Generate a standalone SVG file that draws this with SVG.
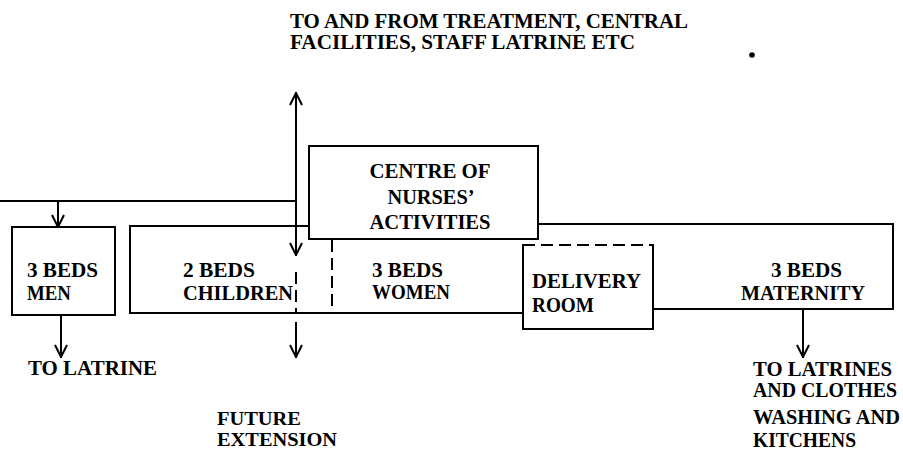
<svg xmlns="http://www.w3.org/2000/svg" width="903" height="450" viewBox="0 0 903 450">
<style>
text{font-family:"Liberation Serif","Times New Roman",serif;font-weight:bold;font-size:20px;fill:#000}
.sm{font-size:18.5px}
.ln{fill:none;stroke:#000;stroke-width:2;stroke-linecap:square}
.dash{fill:none;stroke:#000;stroke-width:2;stroke-dasharray:12 6}
</style>
<defs>
<marker id="ah" viewBox="0 0 14 14" refX="13" refY="7" markerWidth="14" markerHeight="14" markerUnits="userSpaceOnUse" orient="auto-start-reverse">
<path d="M1,1 L13,7 L1,13" fill="none" stroke="#000" stroke-width="2"/>
</marker>
</defs>
<rect width="903" height="450" fill="#fff"/>
<g id="title">
<text x="290" y="28" textLength="398" lengthAdjust="spacingAndGlyphs">TO AND FROM TREATMENT, CENTRAL</text>
<text x="290" y="49" textLength="345" lengthAdjust="spacingAndGlyphs">FACILITIES, STAFF LATRINE ETC</text>
<circle cx="752" cy="55" r="2.8" fill="#000"/>
</g>
<g id="ward">
<path class="ln" d="M309,226 H130 V313 H523"/>
<path class="ln" d="M653,309 H893 V224 H538"/>
<line class="dash" x1="332" y1="240" x2="332" y2="312" stroke-dasharray="11 5"/>
</g>
<g id="men">
<rect class="ln" x="12" y="227" width="103" height="88"/>
<text x="27" y="277" textLength="71" lengthAdjust="spacingAndGlyphs">3 BEDS</text>
<text x="27" y="300" textLength="44" lengthAdjust="spacingAndGlyphs">MEN</text>
</g>
<g id="children">
<text x="183" y="277" textLength="72" lengthAdjust="spacingAndGlyphs">2 BEDS</text>
<text x="183" y="300" textLength="110" lengthAdjust="spacingAndGlyphs">CHILDREN</text>
</g>
<g id="nurses">
<rect class="ln" x="309" y="146" width="229" height="93" fill="#fff"/>
<text x="430" y="178" text-anchor="middle" textLength="121" lengthAdjust="spacingAndGlyphs">CENTRE OF</text>
<text x="431" y="204" text-anchor="middle" textLength="87" lengthAdjust="spacingAndGlyphs">NURSES’</text>
<text x="430" y="229" text-anchor="middle" textLength="121" lengthAdjust="spacingAndGlyphs">ACTIVITIES</text>
</g>
<g id="women">
<text x="372" y="277" textLength="71" lengthAdjust="spacingAndGlyphs">3 BEDS</text>
<text x="372" y="299" textLength="78" lengthAdjust="spacingAndGlyphs">WOMEN</text>
</g>
<g id="delivery">
<path class="ln" d="M523,245 V329 H653 V245"/>
<line class="dash" x1="523" y1="245" x2="653" y2="245" stroke-dasharray="14 4"/>
<text x="532" y="288" textLength="109" lengthAdjust="spacingAndGlyphs">DELIVERY</text>
<text x="532" y="312" textLength="62" lengthAdjust="spacingAndGlyphs">ROOM</text>
</g>
<g id="maternity">
<text x="771" y="277" textLength="71" lengthAdjust="spacingAndGlyphs">3 BEDS</text>
<text x="741" y="300" textLength="124" lengthAdjust="spacingAndGlyphs">MATERNITY</text>
</g>
<g id="labels">
<text x="28" y="375" textLength="129" lengthAdjust="spacingAndGlyphs">TO LATRINE</text>
<text class="sm" x="217" y="425" textLength="84" lengthAdjust="spacingAndGlyphs">FUTURE</text>
<text class="sm" x="217" y="446" textLength="120" lengthAdjust="spacingAndGlyphs">EXTENSION</text>
<text x="753" y="376" textLength="139" lengthAdjust="spacingAndGlyphs">TO LATRINES</text>
<text x="753" y="397" textLength="144" lengthAdjust="spacingAndGlyphs">AND CLOTHES</text>
<text x="753" y="424" textLength="147" lengthAdjust="spacingAndGlyphs">WASHING AND</text>
<text x="753" y="447" textLength="103" lengthAdjust="spacingAndGlyphs">KITCHENS</text>
</g>
<g id="connectors">
<line class="ln" x1="296" y1="93" x2="296" y2="255" marker-start="url(#ah)" marker-end="url(#ah)"/>
<line class="dash" x1="296" y1="272" x2="296" y2="313" stroke-dasharray="14 7"/>
<path class="ln" d="M0,201 H296"/>
<path class="ln" d="M58,201 V227" marker-end="url(#ah)"/>
<line class="ln" x1="61" y1="315" x2="61" y2="357" marker-end="url(#ah)"/>
<line class="ln" x1="296" y1="323" x2="296" y2="357" marker-end="url(#ah)"/>
<line class="ln" x1="803" y1="309" x2="803" y2="357" marker-end="url(#ah)"/>
</g>
</svg>
